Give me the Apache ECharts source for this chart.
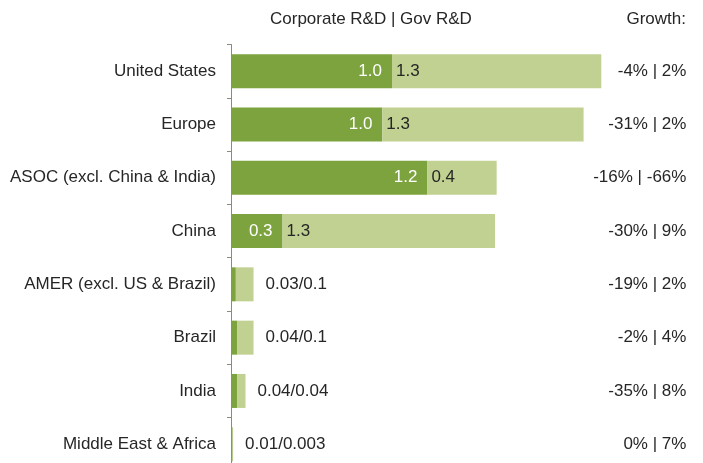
<!DOCTYPE html>
<html><head><meta charset="utf-8">
<script src="https://cdn.jsdelivr.net/npm/echarts@6/dist/echarts.min.js"></script>
<style>html,body{margin:0;padding:0;background:#fff}#c{width:703px;height:463px}</style>
</head><body><div id="c"></div>
<script>
var categories = ['United States','Europe','ASOC (excl. China & India)','China','AMER (excl. US & Brazil)','Brazil','India','Middle East & Africa'];
var corporate = [1.0, 0.94, 1.22, 0.32, 0.03, 0.04, 0.04, 0.01];
var gov = [1.3, 1.25, 0.43, 1.32, 0.11, 0.1, 0.05, 0.003];
var corpLabels = ['1.0','1.0','1.2','0.3','','','',''];
var govLabels = ['1.3','1.3','0.4','1.3','0.03/0.1','0.04/0.1','0.04/0.04','0.01/0.003'];
var growth = ['-4% | 2%','-31% | 2%','-16% | -66%','-30% | 9%','-19% | 2%','-2% | 4%','-35% | 8%','0% | 7%'];

var FONT = 'Liberation Sans, Arial, sans-serif';
var TXT = '#262626';
var chart = echarts.init(document.getElementById('c'));
var corpData = corporate.map(function(v,i){
  return {value:v, label:{show: corpLabels[i] !== '', formatter: corpLabels[i]}};
});
var govData = gov.map(function(v,i){
  var inside = corpLabels[i] !== '';
  return {value:v, label:{show:true, formatter: govLabels[i], position: inside ? 'insideLeft' : 'right', distance: inside ? 4 : 12}};
});
chart.setOption({
  animation:false,
  title:[
    {text:'Corporate R&D | Gov R&D', left:270, top:11, padding:0, textStyle:{fontFamily:FONT,fontSize:17,fontWeight:'normal',color:TXT}},
    {text:'Growth:', right:17, top:11, padding:0, textStyle:{fontFamily:FONT,fontSize:17,fontWeight:'normal',color:TXT}}
  ],
  grid:{left:231, top:44.5, width:386.4, height:426.4, outerBoundsMode:'none', containLabel:false},
  xAxis:{type:'value', min:0, max:2.4, show:false},
  yAxis:[
    {type:'category', data:categories, inverse:true,
     axisLine:{show:true, lineStyle:{color:'#8b8b78'}},
     axisTick:{show:true, length:4, lineStyle:{color:'#8b8b78'}},
     axisLabel:{margin:15, fontFamily:FONT, fontSize:17, color:TXT}},
    {type:'category', data:growth, inverse:true, position:'right',
     axisLine:{show:false}, axisTick:{show:false},
     axisLabel:{margin:69, align:'right', fontFamily:FONT, fontSize:17, color:TXT}}
  ],
  series:[
    {type:'bar', stack:'t', data:corpData, barWidth:34, itemStyle:{color:'#7ca33d'},
     label:{position:'insideRight', distance:10, color:'#fff', fontFamily:FONT, fontSize:17}},
    {type:'bar', stack:'t', data:govData, barWidth:34, itemStyle:{color:'#c1d192'},
     label:{color:TXT, fontFamily:FONT, fontSize:17}}
  ]
});
</script></body></html>
